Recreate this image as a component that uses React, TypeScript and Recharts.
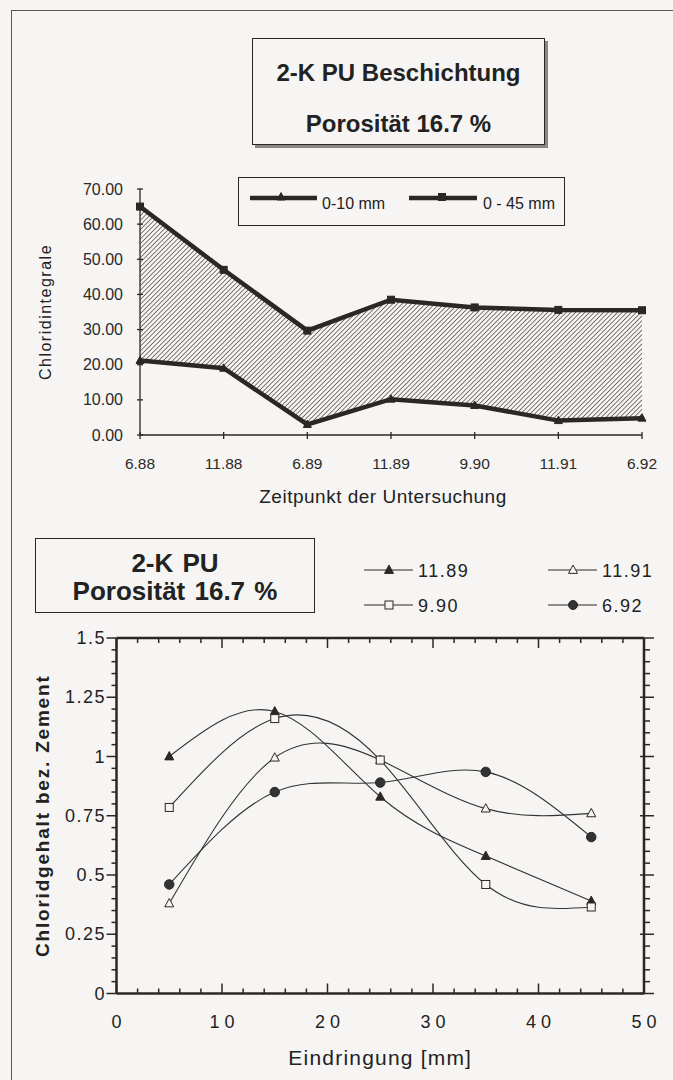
import { Area, ComposedChart, Label, Legend, Line, LineChart, XAxis, YAxis } from "recharts";

const INK = "#2b2724";
const PAPER = "#f6f5f3";
const FONT = "'Liberation Sans', Arial, Helvetica, sans-serif";

// oberes Diagramm: Chloridintegrale je Untersuchung
const zeitpunkte = ["6.88", "11.88", "6.89", "11.89", "9.90", "11.91", "6.92"];
const integral0bis10 = [21.2, 19.0, 3.0, 10.2, 8.4, 4.1, 4.8];
const integral0bis45 = [65.0, 47.0, 29.7, 38.5, 36.3, 35.6, 35.5];
const integralTicks = [0, 10, 20, 30, 40, 50, 60, 70];

// unteres Diagramm: Chloridprofile
const eindringungMm = [5, 15, 25, 35, 45];
const werte1189 = [1.0, 1.19, 0.83, 0.58, 0.39];
const werte1191 = [0.38, 0.995, 0.985, 0.78, 0.76];
const werte990 = [0.785, 1.16, 0.985, 0.46, 0.365];
const werte692 = [0.46, 0.85, 0.89, 0.935, 0.66];
const eindringungFein = Array.from({ length: 26 }, (_, i) => i * 2);
const gehaltFein = Array.from({ length: 31 }, (_, i) => +(i * 0.05).toFixed(2));

const integralRows = zeitpunkte.map((zeit, i) => ({
  zeit,
  tief: integral0bis10[i],
  hoch: integral0bis45[i],
  band: [integral0bis10[i], integral0bis45[i]],
}));

const profilRows = eindringungMm.map((x, i) => ({
  x,
  s1189: werte1189[i],
  s1191: werte1191[i],
  s990: werte990[i],
  s692: werte692[i],
}));

type MarkerKind = "triFilled" | "triOpen" | "squareOpen" | "squareFilled" | "circleFilled";

const profilSerien: { key: string; name: string; marker: MarkerKind }[] = [
  { key: "s1189", name: "11.89", marker: "triFilled" },
  { key: "s1191", name: "11.91", marker: "triOpen" },
  { key: "s990", name: "9.90", marker: "squareOpen" },
  { key: "s692", name: "6.92", marker: "circleFilled" },
];

const isStep = (v: number, step: number) => Math.abs(v / step - Math.round(v / step)) < 1e-6;

function Marker({ kind, cx, cy, size = 9 }: { kind: MarkerKind; cx: number; cy: number; size?: number }) {
  if (cx == null || cy == null) return null;
  const h = size / 2;
  if (kind === "triFilled" || kind === "triOpen") {
    const pts = `${cx},${cy - h * 1.1} ${cx - h},${cy + h * 0.75} ${cx + h},${cy + h * 0.75}`;
    return <polygon points={pts} fill={kind === "triFilled" ? INK : PAPER} stroke={INK} strokeWidth={1} />;
  }
  if (kind === "squareOpen" || kind === "squareFilled") {
    return (
      <rect x={cx - h} y={cy - h} width={size} height={size}
        fill={kind === "squareFilled" ? INK : PAPER} stroke={INK} strokeWidth={1} />
    );
  }
  return <circle cx={cx} cy={cy} r={h} fill="#333" stroke={INK} strokeWidth={1} />;
}

// Achsenstriche selbst zeichnen: lange Striche an Hauptwerten, kurze dazwischen
function IntegralXTick({ x, y, payload }: any) {
  return (
    <g>
      <line x1={x} x2={x} y1={y - 3} y2={y + 4} stroke={INK} strokeWidth={1.3} />
      <text x={x} y={y + 28} textAnchor="middle" dominantBaseline="central"
        fontSize={15.5} fill="#2a2a2a" fontFamily={FONT}>{payload.value}</text>
    </g>
  );
}

function IntegralYTick({ x, y, payload }: any) {
  return (
    <g>
      <line x1={x - 3} x2={x + 3} y1={y} y2={y} stroke={INK} strokeWidth={1.3} />
      <text x={x - 17} y={y} textAnchor="end" dominantBaseline="central"
        fontSize={16} fill="#2a2a2a" fontFamily={FONT}>{Number(payload.value).toFixed(2)}</text>
    </g>
  );
}

function UntenTick({ x, y, payload }: any) {
  const major = isStep(payload.value, 10);
  return (
    <g>
      <line x1={x} x2={x} y1={y} y2={y - (major ? 10 : 5)} stroke={INK} strokeWidth={1.5} />
      {major && (
        <text x={x + 2.5} y={y + 28} textAnchor="middle" dominantBaseline="central"
          fontSize={18} letterSpacing={5} fill="#222" fontFamily={FONT}>{payload.value}</text>
      )}
    </g>
  );
}

function ObenTick({ x, y, payload }: any) {
  const major = isStep(payload.value, 10);
  return <line x1={x} x2={x} y1={y} y2={y + (major ? 10 : 5)} stroke={INK} strokeWidth={1.5} />;
}

function LinksTick({ x, y, payload }: any) {
  const major = isStep(payload.value, 0.25);
  return (
    <g>
      <line x1={x - (major ? 10 : 5)} x2={x} y1={y} y2={y} stroke={INK} strokeWidth={1.5} />
      {major && (
        <text x={x - 10.5} y={y} textAnchor="end" dominantBaseline="central"
          fontSize={18} letterSpacing={1.5} fill="#222" fontFamily={FONT}>{payload.value}</text>
      )}
    </g>
  );
}

function RechtsTick({ x, y, payload }: any) {
  const major = isStep(payload.value, 0.25);
  return <line x1={x - (major ? 4 : 0)} x2={x + (major ? 10 : 6)} y1={y} y2={y} stroke={INK} strokeWidth={1.5} />;
}

function IntegralLegend({ payload }: any) {
  const items = [
    { name: "0-10 mm", marker: "triFilled" as MarkerKind, x0: 11, x1: 78, mx: 42, tx: 83 },
    { name: "0 - 45 mm", marker: "squareFilled" as MarkerKind, x0: 170, x1: 238, mx: 203, tx: 244 },
  ].filter((it) => !payload || payload.some((p: any) => p.value === it.name));
  return (
    <div style={{ width: 327, height: 49, border: `1.5px solid ${INK}`, boxSizing: "border-box" }}>
      <svg width={324} height={46} style={{ display: "block" }}>
        {items.map((it) => (
          <g key={it.name}>
            <line x1={it.x0} x2={it.x1} y1={20} y2={20} stroke={INK} strokeWidth={4.5} />
            <Marker kind={it.marker} cx={it.mx} cy={19} size={it.marker === "squareFilled" ? 7 : 8} />
            <text x={it.tx} y={31} fontSize={16} fill="#222" fontFamily={FONT}>{it.name}</text>
          </g>
        ))}
      </svg>
    </div>
  );
}

function ProfilLegend({ payload }: any) {
  const slots = [
    { lx: 4, ty: 22 }, { lx: 188, ty: 22 },
    { lx: 4, ty: 57 }, { lx: 188, ty: 57 },
  ];
  const ordered = profilSerien.filter((s) => !payload || payload.some((p: any) => p.value === s.name));
  return (
    <svg width={310} height={75} style={{ display: "block" }}>
      {ordered.map((s, i) => {
        const { lx, ty } = slots[i];
        return (
          <g key={s.key}>
            <line x1={lx} x2={lx + 49} y1={ty} y2={ty} stroke={INK} strokeWidth={1} />
            <Marker kind={s.marker} cx={lx + 25} cy={ty} size={s.marker === "squareOpen" ? 8 : 9} />
            <text x={lx + 54} y={ty + 6.5} fontSize={18} letterSpacing={1.5} fill="#222" fontFamily={FONT}>{s.name}</text>
          </g>
        );
      })}
    </svg>
  );
}

function IntegralChart() {
  return (
    <ComposedChart width={673} height={360} data={integralRows}
      margin={{ top: 39, right: 31, bottom: 0, left: 80 }} style={{ fontFamily: FONT }}>
      <defs>
        <pattern id="schraffur" width="3.3" height="3.3" patternUnits="userSpaceOnUse" patternTransform="rotate(45)">
          <line x1="0" y1="0" x2="0" y2="3.3" stroke="#3a3836" strokeWidth="1.3" />
        </pattern>
      </defs>
      <XAxis dataKey="zeit" height={75} tickSize={0} tickMargin={0} tickLine={false} interval={0}
        axisLine={{ stroke: INK, strokeWidth: 1.3 }} tick={IntegralXTick}>
        <Label content={({ viewBox }: any) => (
          <text x={viewBox.x + viewBox.width / 2 - 8} y={viewBox.y + 68} textAnchor="middle"
            fontSize={19} letterSpacing={0.5} fill="#222" fontFamily={FONT}>Zeitpunkt der Untersuchung</text>
        )} />
      </XAxis>
      <YAxis domain={[0, 70]} ticks={integralTicks} width={60} tickSize={0} tickMargin={0}
        tickLine={false} interval={0} axisLine={{ stroke: INK, strokeWidth: 1.3 }} tick={IntegralYTick}>
        <Label content={({ viewBox }: any) => (
          <text transform={`translate(${viewBox.x - 35},${viewBox.y + viewBox.height / 2}) rotate(-90)`}
            textAnchor="middle" dominantBaseline="central" fontSize={16} letterSpacing={1.5}
            fill="#222" fontFamily={FONT}>Chloridintegrale</text>
        )} />
      </YAxis>
      <Area dataKey="band" type="linear" fill="url(#schraffur)" fillOpacity={1} stroke="none"
        legendType="none" activeDot={false} isAnimationActive={false} />
      <Line dataKey="tief" name="0-10 mm" type="linear" stroke={INK} strokeWidth={4.5}
        dot={(p: any) => <Marker key={`t-${p.index}`} kind="triFilled" cx={p.cx} cy={p.cy} size={8} />}
        activeDot={false} isAnimationActive={false} />
      <Line dataKey="hoch" name="0 - 45 mm" type="linear" stroke={INK} strokeWidth={4.5}
        dot={(p: any) => <Marker key={`h-${p.index}`} kind="squareFilled" cx={p.cx} cy={p.cy} size={7} />}
        activeDot={false} isAnimationActive={false} />
      <Legend layout="vertical" align="center" verticalAlign="middle"
        wrapperStyle={{ left: 238, top: 27, width: 327, height: 49 }}
        content={(props: any) => <IntegralLegend payload={props.payload} />} />
    </ComposedChart>
  );
}

function ProfilChart() {
  const axisLine = { stroke: INK, strokeWidth: 2.5 };
  return (
    <LineChart width={673} height={550} data={profilRows}
      margin={{ top: 107, right: 9, bottom: 26.5, left: 56.5 }} style={{ fontFamily: FONT }}>
      <XAxis xAxisId="haupt" type="number" dataKey="x" domain={[0, 50]} ticks={eindringungFein} interval={0}
        height={60} tickSize={0} tickMargin={0} tickLine={false} axisLine={axisLine} tick={UntenTick}>
        <Label content={({ viewBox }: any) => (
          <text x={viewBox.x + viewBox.width / 2} y={viewBox.y + 71} textAnchor="middle"
            fontSize={21} letterSpacing={1.2} fill="#222" fontFamily={FONT}>Eindringung [mm]</text>
        )} />
      </XAxis>
      <XAxis xAxisId="oben" orientation="top" type="number" dataKey="x" domain={[0, 50]} allowDataOverflow
        ticks={eindringungFein} interval={0} height={1} tickSize={0} tickMargin={0} tickLine={false}
        axisLine={axisLine} tick={ObenTick} />
      <YAxis yAxisId="haupt" domain={[0, 1.5]} ticks={gehaltFein} interval={0} width={60}
        tickSize={0} tickMargin={0} tickLine={false} axisLine={axisLine} tick={LinksTick}>
        <Label content={({ viewBox }: any) => (
          <text transform={`translate(${viewBox.x - 14.5},${viewBox.y + viewBox.height / 2}) rotate(-90)`}
            textAnchor="middle" dominantBaseline="central" fontSize={19} fontWeight="bold"
            letterSpacing={1.8} fill="#222" fontFamily={FONT}>Chloridgehalt bez. Zement</text>
        )} />
      </YAxis>
      <YAxis yAxisId="rechts" orientation="right" domain={[0, 1.5]} allowDataOverflow ticks={gehaltFein}
        interval={0} width={20} tickSize={0} tickMargin={0} tickLine={false} axisLine={axisLine} tick={RechtsTick} />
      {profilSerien.map((s) => (
        <Line key={s.key} xAxisId="haupt" yAxisId="haupt" dataKey={s.key} name={s.name} type="natural"
          stroke="#333" strokeWidth={1.1}
          dot={(p: any) => (
            <Marker key={`${s.key}-${p.index}`} kind={s.marker} cx={p.cx} cy={p.cy}
              size={s.marker === "squareOpen" ? 8 : s.marker === "circleFilled" ? 9.5 : 9} />
          )}
          activeDot={false} isAnimationActive={false} />
      ))}
      <Legend layout="vertical" align="center" verticalAlign="middle"
        wrapperStyle={{ left: 360, top: 18, width: 310, height: 75 }}
        content={(props: any) => <ProfilLegend payload={props.payload} />} />
    </LineChart>
  );
}

export default function App() {
  return (
    <div style={{ position: "relative", width: 673, height: 1080, background: PAPER, fontFamily: FONT, overflow: "hidden" }}>
      <style>{`body{margin:0;background:${PAPER};}`}</style>
      <div style={{ position: "absolute", left: 11, top: 10, right: 0, bottom: 0,
        borderTop: "1.5px solid #5a5856", borderLeft: "1.5px solid #5a5856" }} />

      <div style={{ position: "absolute", left: 252, top: 38, width: 293, height: 107,
        border: `1.5px solid ${INK}`, boxSizing: "border-box", background: PAPER,
        boxShadow: "3px 3px 0 #8a8886", color: "#222", textAlign: "center", fontWeight: "bold", fontSize: 24 }}>
        <div style={{ position: "absolute", left: 0, right: 0, top: 19, lineHeight: "30px" }}>2-K PU Beschichtung</div>
        <div style={{ position: "absolute", left: 0, right: 0, top: 70, lineHeight: "30px" }}>Porosität 16.7 %</div>
      </div>

      <div style={{ position: "absolute", left: 0, top: 150 }}>
        <IntegralChart />
      </div>

      <div style={{ position: "absolute", left: 0, top: 530 }}>
        <ProfilChart />
      </div>

      <div style={{ position: "absolute", left: 35, top: 538, width: 280, height: 75,
        border: `1.5px solid ${INK}`, boxSizing: "border-box", color: "#222",
        textAlign: "center", fontWeight: "bold", fontSize: 26, wordSpacing: 2 }}>
        <div style={{ position: "absolute", left: 0, right: 0, top: 9, lineHeight: "30px" }}>2-K PU</div>
        <div style={{ position: "absolute", left: 0, right: 0, top: 37, lineHeight: "30px" }}>Porosität 16.7 %</div>
      </div>
    </div>
  );
}
